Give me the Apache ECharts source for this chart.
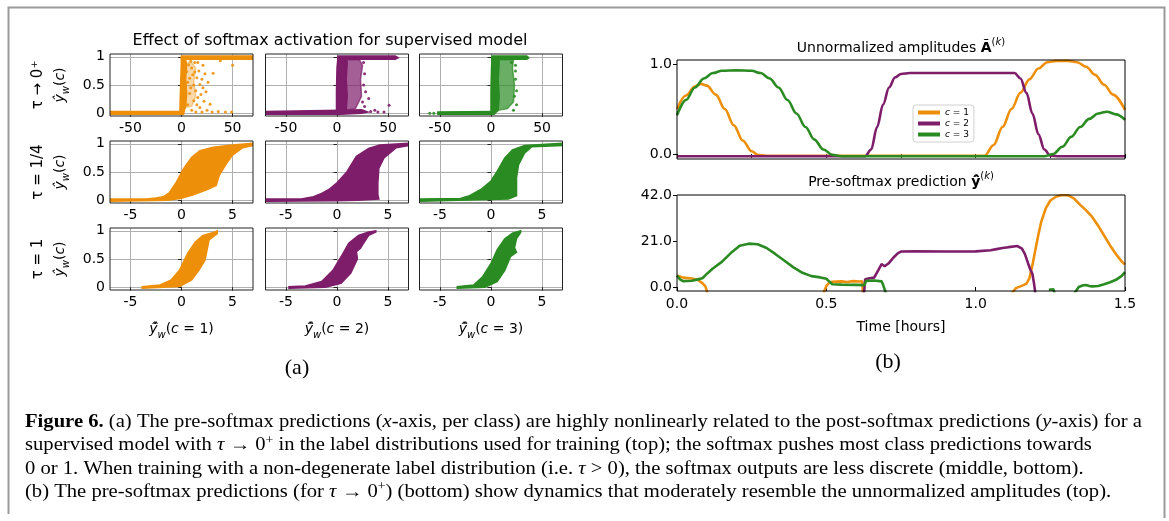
<!DOCTYPE html>
<html>
<head>
<meta charset="utf-8">
<script src="https://cdn.jsdelivr.net/npm/echarts@6/dist/echarts.min.js"></script>
<style>
  html, body { margin: 0; padding: 0; background: #fff; }
  #chart { width: 1169px; height: 521px; }
</style>
</head>
<body>
<div id="chart"></div>
<script>
// ---------- class colours and names ----------
const classColors = ['#ee8f0a', '#7e1d6a', '#2a8b22'];
const classNames = ['c = 1', 'c = 2', 'c = 3'];

// ---------- (a) softmax scatter panels ----------
const tauLabels = ['τ → 0⁺', 'τ = 1/4', 'τ = 1'];
const rowXRange = [[-70, 70], [-7, 7], [-7, 7]];
const rowXTicks = [[-50, 0, 50], [-5, 0, 5], [-5, 0, 5]];
const yTicksA = [0, 0.5, 1];

// dense point clouds (outlines of the solid regions), tau -> 0+
const denseT0C1 = [
  [[-70, -0.02], [2, -0.02], [2, 0.03], [-70, 0.03]],
  [[-1.5, -0.02], [2, 0], [4, 0.12], [5, 0.35], [4, 0.6], [5, 0.85], [4, 0.95], [2, 1.0], [0, 1.0], [-0.5, 0.7], [-1, 0.4], [-1.5, 0.1]],
  [[0, 0.955], [70, 0.955], [70, 1.015], [0, 1.015]]
];
const speckT0C1 = [
  [[4, 0.1], [10, 0.12], [14, 0.3], [12, 0.55], [14, 0.8], [10, 0.9], [4, 0.9]]
];
const dotsT0C1 = [
  [5, 0.74], [6, 0.55], [7, 0.86], [8, 0.62], [8, 0.35], [9, 0.45], [10, 0.8], [11, 0.68], [12, 0.22], [12, 0.5],
  [13, 0.9], [14, 0.4], [15, 0.63], [15, 0.15], [16, 0.28], [17, 0.75], [18, 0.51], [18, 0.1], [19, 0.33], [20, 0.6],
  [21, 0.45], [22, 0.21], [23, 0.7], [24, 0.38], [25, 0.05], [26, 0.55], [28, 0.16], [31, 0.71], [38, 0.93], [50, 0.85],
  [30, 0.02], [36, 0.03], [43, 0.02], [49, 0.02], [6, 0.15], [10, 0.05], [14, 0.02], [20, 0.02], [9, 0.92], [16, 0.9],
  [13, 0.73], [21, 0.85]
];

const denseT0C2 = [
  [[-70, -0.02], [4, -0.02], [24, 0.0], [30, 0.02], [24, 0.06], [4, 0.05], [-70, 0.03]],
  [[-0.5, -0.02], [4, 0], [9, 0.05], [10, 0.3], [9, 0.6], [10, 0.9], [9, 1.0], [1, 1.0], [0, 0.8], [-0.5, 0.4]],
  [[1, 0.955], [57, 0.955], [60, 0.985], [57, 1.015], [1, 1.015]]
];
const speckT0C2 = [
  [[8, 0.05], [18, 0.08], [24, 0.3], [23, 0.6], [25, 0.85], [22, 0.95], [8, 0.95]]
];
const dotsT0C2 = [
  [31, 0.26], [51, 0.14], [37, 0.05], [27, 0.12], [33, 0.03], [26, 0.5], [27, 0.7], [28, 0.38],
  [40, 0.02], [46, 0.02], [26, 0.9], [25, 0.2]
];

const denseT0C3 = [
  [[-52, -0.02], [3, -0.02], [3, 0.03], [-52, 0.02]],
  [[0, -0.02], [4, 0], [7, 0.05], [8, 0.3], [7, 0.6], [8, 0.9], [7, 1.0], [1, 1.0], [0.5, 0.8], [0, 0.4]],
  [[1, 0.955], [35, 0.955], [37, 0.985], [35, 1.015], [1, 1.015]]
];
const speckT0C3 = [
  [[7, 0.05], [16, 0.08], [22, 0.2], [23, 0.5], [21, 0.8], [22, 0.95], [7, 0.95]]
];
const dotsT0C3 = [
  [24, 0.6], [25, 0.4], [24, 0.75], [24, 0.85], [20, 0.9], [-56, 0], [-60, 0], [23, 0.3], [25, 0.15], [22, 0.05]
];

// tau = 1/4
const denseT4C1 = [[
  [-7, -0.02], [-7, 0.02], [-3.4, 0.02], [-2.5, 0.04], [-1.8, 0.06], [-1.2, 0.13], [-0.5, 0.32], [0.2, 0.56],
  [1.0, 0.76], [1.8, 0.88], [3.1, 0.94], [5, 0.98], [7, 1.01],
  [7, 0.97], [6, 0.93], [5, 0.8], [4.4, 0.65], [3.7, 0.44], [3.4, 0.26], [2.4, 0.18], [1.1, 0.09], [-0.1, 0.03],
  [-1.4, 0.0], [-7, -0.02]
]];
const denseT4C2 = [[
  [-7, -0.02], [-7, 0.02], [-3.5, 0.02], [-2.3, 0.06], [-1.5, 0.12], [-0.8, 0.19], [0, 0.31], [0.96, 0.5],
  [1.9, 0.78], [3.1, 0.92], [4.2, 0.98], [7, 1.01],
  [7, 0.97], [5.8, 0.93], [4.6, 0.75], [4.1, 0.57], [4.0, 0.3], [4.0, 0.1], [4.1, 0.02], [2, 0.0], [0, -0.01], [-7, -0.02]
]];
const denseT4C3 = [[
  [-6.9, -0.02], [-6.9, 0.02], [-3, 0.03], [-2.1, 0.08], [-1, 0.19], [0, 0.34], [0.6, 0.51], [1.35, 0.75],
  [2.1, 0.89], [3.3, 0.97], [7, 1.01],
  [7, 0.97], [4, 0.95], [3.3, 0.84], [2.7, 0.63], [2.5, 0.4], [2.5, 0.08], [1.7, 0.02], [-6.9, -0.02]
]];

// tau = 1
const denseT1C1 = [[
  [-3.85, -0.02], [-3.85, 0.01], [-2.1, 0.04], [-1, 0.13], [-0.2, 0.3], [0.6, 0.6], [1.35, 0.8], [2.1, 0.92],
  [3.3, 0.98], [3.5, 1.0],
  [3.5, 0.95], [2.7, 0.84], [2.5, 0.66], [2.3, 0.48], [1.7, 0.3], [1.0, 0.13], [-0.2, 0.01], [-3.85, -0.02]
]];
const denseT1C2 = [[
  [-4.7, -0.02], [-4.7, 0.01], [-3.1, 0.02], [-1.5, 0.1], [-0.4, 0.3], [0.4, 0.54], [1.15, 0.78], [2.1, 0.92],
  [3.1, 0.98], [3.8, 1.0],
  [3.8, 0.98], [3.1, 0.92], [2.5, 0.75], [2.3, 0.69], [1.9, 0.63], [2.0, 0.5], [1.35, 0.25], [0.4, 0.07],
  [-1.15, 0], [-4.7, -0.02]
]];
const denseT1C3 = [[
  [-3.3, -0.02], [-3.3, 0.01], [-1.7, 0.04], [-0.8, 0.19], [0, 0.42], [0.6, 0.66], [1.35, 0.86], [2.1, 0.96],
  [2.9, 1.0],
  [2.9, 0.97], [2.5, 0.86], [2.3, 0.7], [2.5, 0.62], [1.9, 0.54], [1.35, 0.3], [0.6, 0.1], [-0.6, 0], [-3.3, -0.02]
]];

// ---------- (b) time series ----------
// unnormalized amplitudes, [time in hours, amplitude]
const ampC1 = [
  [0, 0.5], [0.03, 0.65], [0.06, 0.75], [0.08, 0.78], [0.1, 0.76], [0.13, 0.66], [0.16, 0.5], [0.19, 0.32],
  [0.22, 0.15], [0.25, 0.03], [0.27, -0.01], [0.3, -0.02], [0.6, -0.02], [0.9, -0.02], [1.03, -0.02],
  [1.06, 0.1], [1.09, 0.3], [1.12, 0.5], [1.15, 0.68], [1.18, 0.83], [1.21, 0.95], [1.24, 1.02], [1.27, 1.035],
  [1.31, 1.035], [1.34, 1.02], [1.37, 0.97], [1.4, 0.88], [1.43, 0.77], [1.46, 0.66], [1.5, 0.49]
];
const ampC2 = [
  [0, -0.025], [0.3, -0.025], [0.63, -0.025], [0.65, 0.05], [0.67, 0.3], [0.69, 0.55], [0.71, 0.74], [0.73, 0.85],
  [0.75, 0.89], [0.78, 0.9], [1.0, 0.9], [1.13, 0.9], [1.15, 0.84], [1.17, 0.68], [1.19, 0.45], [1.21, 0.22],
  [1.23, 0.05], [1.25, -0.02], [1.28, -0.025], [1.5, -0.025]
];
const ampC3 = [
  [0, 0.43], [0.03, 0.6], [0.06, 0.74], [0.09, 0.84], [0.12, 0.9], [0.15, 0.925], [0.2, 0.93], [0.25, 0.925],
  [0.28, 0.9], [0.31, 0.84], [0.34, 0.74], [0.37, 0.6], [0.4, 0.45], [0.43, 0.3], [0.46, 0.16], [0.49, 0.05],
  [0.52, -0.01], [0.55, -0.025], [0.8, -0.025], [1.0, -0.025], [1.23, -0.025], [1.26, 0.0], [1.29, 0.08],
  [1.32, 0.19], [1.35, 0.3], [1.38, 0.39], [1.41, 0.45], [1.44, 0.47], [1.47, 0.44], [1.5, 0.38]
];
const ampYTicks = [0, 1];

// pre-softmax predictions, [time in hours, value]; null breaks the trace
const predC1 = [
  [0, 5.3], [0.02, 4.3], [0.05, 3.9], [0.07, 3.2], [0.085, 1.8], [0.095, 0.3], [0.105, -4], [0.105, null],
  [0.49, -3], [0.5, 0.5], [0.51, 2], [0.52, 2.4], [0.55, 2.6], [0.57, 2.3], [0.59, 2.7], [0.61, 2.5], [0.62, 2.6],
  [0.623, -3], [0.623, null],
  [1.12, -3], [1.135, -0.5], [1.15, 0.3], [1.16, 0.9], [1.17, 1.6], [1.18, 4], [1.19, 10], [1.2, 17], [1.21, 24],
  [1.22, 30], [1.235, 36], [1.25, 39.5], [1.27, 41.3], [1.29, 42], [1.31, 41.8], [1.33, 40.3], [1.35, 37.5],
  [1.37, 35], [1.39, 32], [1.41, 28], [1.43, 23.5], [1.45, 19], [1.47, 15], [1.49, 11.5], [1.5, 10.3]
];
const predC2 = [
  [0.626, -3], [0.63, 3.5], [0.645, 4], [0.66, 4.3], [0.675, 8], [0.685, 10.5], [0.695, 9.5], [0.7, 9.0],
  [0.71, 11], [0.725, 13.5], [0.74, 15.5], [0.75, 16.2], [0.8, 16.3], [0.9, 16.2], [1.0, 16.3], [1.05, 16.8],
  [1.07, 17.3], [1.09, 17.8], [1.11, 18.2], [1.14, 18.7], [1.155, 17.5], [1.165, 15], [1.175, 11], [1.183, 8],
  [1.19, 6], [1.195, 2], [1.2, -3]
];
const predC3 = [
  [0, 5.3], [0.01, 3.5], [0.02, 2.7], [0.05, 2.9], [0.07, 3.5], [0.085, 4], [0.1, 6], [0.12, 8.5], [0.15, 11.5],
  [0.18, 15.5], [0.21, 18.8], [0.24, 19.8], [0.27, 19.5], [0.3, 17.8], [0.33, 15], [0.36, 12], [0.39, 9],
  [0.42, 6.5], [0.45, 5], [0.48, 4.4], [0.5, 3.8], [0.51, 2.5], [0.52, 1.3], [0.55, 1.1], [0.6, 1.0], [0.628, 0.9],
  [0.633, 2.8], [0.66, 3.0], [0.685, 2.6], [0.69, 1], [0.7, -3], [0.7, null],
  [1.245, -1.2], [1.26, -1.0], [1.265, -3], [1.265, null],
  [1.33, -3], [1.345, 0], [1.36, 0.8], [1.37, 0.9], [1.38, 0.5], [1.39, 0.3], [1.41, 0.5], [1.43, 1.3],
  [1.45, 2.2], [1.47, 3.3], [1.49, 5.2], [1.5, 6.8]
];
const predYTicks = [0, 21, 42];

// ---------- caption ----------
const captionLines = [
  [['b', 'Figure 6.'], ['n', ' (a) The pre-softmax predictions ('], ['i', 'x'], ['n', '-axis, per class) are highly nonlinearly related to the post-softmax predictions ('], ['i', 'y'], ['n', '-axis) for a']],
  [['n', 'supervised model with '], ['i', 'τ'], ['n', ' → 0'], ['sup', '+'], ['n', ' in the label distributions used for training (top); the softmax pushes most class predictions towards']],
  [['n', '0 or 1. When training with a non-degenerate label distribution (i.e. '], ['i', 'τ'], ['n', ' > 0), the softmax outputs are less discrete (middle, bottom).']],
  [['n', '(b) The pre-softmax predictions (for '], ['i', 'τ'], ['n', ' → 0'], ['sup', '+'], ['n', ') (bottom) show dynamics that moderately resemble the unnormalized amplitudes (top).']]
];

// ================= build =================
const SANS = 'DejaVu Sans';
const SERIF = 'Liberation Serif';

// speckled zones: sparse for class 1, nearly filled for classes 2 and 3
const speckOpacity = [0.35, 0.7, 0.7];

const panels = [
  { row: 0, col: 0, dense: denseT0C1, speck: speckT0C1, dots: dotsT0C1 },
  { row: 0, col: 1, dense: denseT0C2, speck: speckT0C2, dots: dotsT0C2 },
  { row: 0, col: 2, dense: denseT0C3, speck: speckT0C3, dots: dotsT0C3 },
  { row: 1, col: 0, dense: denseT4C1, speck: [], dots: [] },
  { row: 1, col: 1, dense: denseT4C2, speck: [], dots: [] },
  { row: 1, col: 2, dense: denseT4C3, speck: [], dots: [] },
  { row: 2, col: 0, dense: denseT1C1, speck: [], dots: [] },
  { row: 2, col: 1, dense: denseT1C2, speck: [], dots: [] },
  { row: 2, col: 2, dense: denseT1C3, speck: [], dots: [] }
];

const colLeft = [110, 265.5, 419.5];
const rowTop = [54, 141, 228];
const PW = 143, PH = 62;

const grids = [], xAxes = [], yAxes = [], series = [];
const tickLabel = { fontFamily: SANS, fontSize: 14, color: '#000' };

function polygonSeries(idx, verts, color, opacity) {
  return {
    type: 'custom', xAxisIndex: idx, yAxisIndex: idx, clip: true, silent: true, z: 2,
    data: verts,
    renderItem: function (params, api) {
      if (params.dataIndex !== 0) return null;
      return {
        type: 'polygon',
        shape: { points: verts.map(v => api.coord(v)) },
        style: { fill: color, opacity: opacity, stroke: color, lineWidth: 1.5 }
      };
    }
  };
}

panels.forEach((p, i) => {
  const color = classColors[p.col];
  grids.push({
    left: colLeft[p.col], top: rowTop[p.row], width: PW, height: PH,
    show: true, borderColor: '#222', borderWidth: 1, backgroundColor: 'transparent', z: 10
  });
  xAxes.push({
    gridIndex: i, type: 'value', min: rowXRange[p.row][0], max: rowXRange[p.row][1],
    axisLine: { show: false },
    axisTick: { show: true, customValues: rowXTicks[p.row], length: 3.5, lineStyle: { color: '#222' } },
    axisLabel: Object.assign({ customValues: rowXTicks[p.row], margin: 5 }, tickLabel),
    splitLine: { show: true, lineStyle: { color: '#b0b0b0', width: 1 } }
  });
  yAxes.push({
    gridIndex: i, type: 'value', min: -0.05, max: 1.05,
    axisLine: { show: false },
    axisTick: { show: true, customValues: yTicksA, length: 3.5, lineStyle: { color: '#222' } },
    axisLabel: Object.assign({ show: p.col === 0, customValues: yTicksA, margin: 5 }, tickLabel),
    splitLine: { show: true, lineStyle: { color: '#b0b0b0', width: 1 } }
  });
  p.dense.forEach(poly => series.push(polygonSeries(i, poly, color, 1)));
  p.speck.forEach(poly => series.push(polygonSeries(i, poly, color, speckOpacity[p.col])));
  if (p.dots.length) {
    series.push({
      type: 'scatter', xAxisIndex: i, yAxisIndex: i, silent: true, z: 3,
      symbolSize: 3, data: p.dots, itemStyle: { color: color, opacity: 0.9 }
    });
  }
});

// (b) top: amplitudes
const AMP = 9, PRED = 10;
grids.push({ left: 677, top: 60, width: 448, height: 99, show: true, borderColor: '#000', borderWidth: 1, backgroundColor: 'transparent', z: 10 });
xAxes.push({
  gridIndex: AMP, type: 'value', min: 0, max: 1.5, interval: 0.25,
  axisLine: { show: false }, axisTick: { length: 4, lineStyle: { color: '#000' } },
  axisLabel: { show: false }, splitLine: { show: false }
});
yAxes.push({
  gridIndex: AMP, type: 'value', min: -0.056, max: 1.045,
  axisLine: { show: false },
  axisTick: { customValues: ampYTicks, length: 4, lineStyle: { color: '#000' } },
  axisLabel: Object.assign({ customValues: ampYTicks, formatter: v => Number(v).toFixed(1), margin: 5 }, tickLabel),
  splitLine: { show: false }
});
// (b) bottom: pre-softmax
grids.push({ left: 677, top: 195, width: 448, height: 96, show: true, borderColor: '#000', borderWidth: 1, backgroundColor: 'transparent', z: 10 });
xAxes.push({
  gridIndex: PRED, type: 'value', min: 0, max: 1.5, interval: 0.5,
  axisLine: { show: false }, axisTick: { length: 4, lineStyle: { color: '#000' } },
  axisLabel: Object.assign({ formatter: v => Number(v).toFixed(1), margin: 6 }, tickLabel),
  splitLine: { show: false },
  name: 'Time [hours]', nameLocation: 'middle', nameGap: 29,
  nameTextStyle: { fontFamily: SANS, fontSize: 14, color: '#000' }
});
yAxes.push({
  gridIndex: PRED, type: 'value', min: -1.8, max: 42,
  axisLine: { show: false },
  axisTick: { customValues: predYTicks, length: 4, lineStyle: { color: '#000' } },
  axisLabel: Object.assign({ customValues: predYTicks, formatter: v => Number(v).toFixed(1), margin: 5 }, tickLabel),
  splitLine: { show: false }
});

[ampC1, ampC2, ampC3].forEach((d, k) => series.push({
  name: classNames[k], type: 'line', xAxisIndex: AMP, yAxisIndex: AMP, data: d,
  showSymbol: false, smooth: 0.35, smoothMonotone: 'x', clip: true, z: 3 + k,
  lineStyle: { color: classColors[k], width: 2.6 }, itemStyle: { color: classColors[k] }
}));
[predC1, predC2, predC3].forEach((d, k) => series.push({
  name: classNames[k], type: 'line', xAxisIndex: PRED, yAxisIndex: PRED, data: d,
  showSymbol: false, connectNulls: false, clip: true, z: 3 + k,
  lineStyle: { color: classColors[k], width: 2.6 }, itemStyle: { color: classColors[k] }
}));

// ---------- text ----------
// main glyphs sit in the middle of the line box, subscripts at its bottom, superscripts at its top
const mathRich = {
  n: { fontFamily: SANS, fontSize: 14, lineHeight: 22, verticalAlign: 'middle' },
  i: { fontFamily: SANS, fontSize: 14, fontStyle: 'italic', lineHeight: 22, verticalAlign: 'middle' },
  b: { fontFamily: SANS, fontSize: 14, fontWeight: 'bold', lineHeight: 22, verticalAlign: 'middle' },
  sub: { fontFamily: SANS, fontSize: 10, fontStyle: 'italic', lineHeight: 22, verticalAlign: 'bottom' },
  sup: { fontFamily: SANS, fontSize: 10, lineHeight: 22, verticalAlign: 'top' },
  supi: { fontFamily: SANS, fontSize: 10, fontStyle: 'italic', lineHeight: 22, verticalAlign: 'top' }
};

function textEl(x, y, text, extra) {
  return Object.assign({
    type: 'text', x: x, y: y, silent: true, z: 20,
    style: Object.assign({
      text: text, x: 0, y: 0, align: 'center', verticalAlign: 'middle',
      fontFamily: SANS, fontSize: 14, fill: '#000', rich: mathRich
    }, (extra && extra.style) || {})
  }, extra ? { rotation: extra.rotation || 0 } : {});
}

const graphics = [];
// figure frame
graphics.push({
  type: 'polyline', silent: true, z: 1,
  shape: { points: [[8.5, 514], [8.5, 7.5], [1164.5, 7.5], [1164.5, 518]] },
  style: { stroke: '#9a9a9a', lineWidth: 2, fill: null }
});
graphics.push(textEl(330, 41, 'Effect of softmax activation for supervised model', { style: { fontSize: 16 } }));
const rowMid = rowTop.map(t => t + PH / 2);
tauLabels.forEach((lab, r) => {
  graphics.push(textEl(38, rowMid[r], lab, { rotation: Math.PI / 2, style: { fontSize: 15 } }));
  graphics.push(textEl(60, rowMid[r], '{i|ŷ}{sub|w}{n|(}{i|c}{n|)}', { rotation: Math.PI / 2 }));
});
[1, 2, 3].forEach((c, k) => {
  graphics.push(textEl(colLeft[k] + PW / 2, 329, '{i|ŷ\u0302}{sub|w}{n|(}{i|c}{n| = ' + c + ')}'));
});
graphics.push(textEl(297, 368, '(a)', { style: { fontFamily: SERIF, fontSize: 22 } }));
graphics.push(textEl(888, 362, '(b)', { style: { fontFamily: SERIF, fontSize: 22 } }));
graphics.push(textEl(901, 48, '{n|Unnormalized amplitudes }{b|Ã}{sup|(}{supi|k}{sup|)}'));
graphics.push(textEl(901, 182, '{n|Pre-softmax prediction }{b|ŷ\u0302}{sup|(}{supi|k}{sup|)}'));

// caption, stretched so that the first line spans the text block width
const capSize = 18;
const capRich = {
  n: { fontFamily: SERIF, fontSize: capSize, lineHeight: 22, verticalAlign: 'middle' },
  b: { fontFamily: SERIF, fontSize: capSize, fontWeight: 'bold', lineHeight: 22, verticalAlign: 'middle' },
  i: { fontFamily: SERIF, fontSize: capSize, fontStyle: 'italic', lineHeight: 22, verticalAlign: 'middle' },
  sup: { fontFamily: SERIF, fontSize: 12, lineHeight: 22, verticalAlign: 'top' }
};
const ctx = document.createElement('canvas').getContext('2d');
function segWidth(seg) {
  const st = capRich[seg[0]];
  ctx.font = (st.fontStyle || '') + ' ' + (st.fontWeight || '') + ' ' + st.fontSize + 'px "' + SERIF + '"';
  return ctx.measureText(seg[1]).width;
}
const line1Width = captionLines[0].reduce((s, seg) => s + segWidth(seg), 0);
const capScale = 1117 / line1Width;
const capY = [422, 445.5, 469, 492];
graphics.push({
  type: 'group', x: 25, y: 0, scaleX: capScale, silent: true,
  children: captionLines.map((segs, li) => ({
    type: 'text', silent: true,
    style: {
      text: segs.map(s => '{' + s[0] + '|' + s[1] + '}').join(''),
      x: 0, y: capY[li], align: 'left', verticalAlign: 'middle', fill: '#000', rich: capRich
    }
  }))
});

const option = {
  animation: false,
  backgroundColor: '#fff',
  grid: grids,
  xAxis: xAxes,
  yAxis: yAxes,
  legend: {
    data: classNames, orient: 'vertical', left: 913, top: 105,
    icon: 'rect', itemWidth: 22, itemHeight: 4, itemGap: 2,
    padding: [3, 5], backgroundColor: 'rgba(255,255,255,0.85)', borderColor: '#d0d0d0', borderWidth: 1, borderRadius: 3,
    selectedMode: false,
    formatter: name => '{i|c}{n|' + name.slice(1) + '}',
    textStyle: {
      fontFamily: SANS, fontSize: 9, color: '#000',
      rich: { i: { fontFamily: SANS, fontSize: 9, fontStyle: 'italic' }, n: { fontFamily: SANS, fontSize: 9 } }
    }
  },
  graphic: graphics,
  series: series
};

const chart = echarts.init(document.getElementById('chart'), null, { renderer: 'canvas' });
chart.setOption(option);
</script>
</body>
</html>
